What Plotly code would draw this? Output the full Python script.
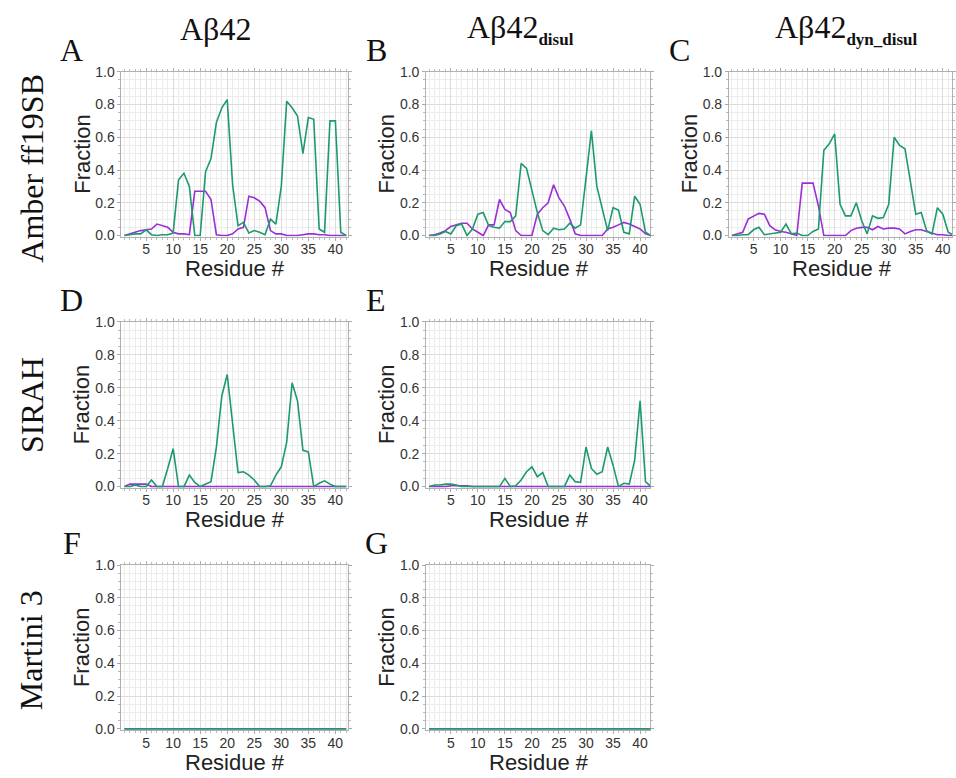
import plotly.graph_objects as go

W, H = 956, 778

residues = list(range(1, 43))
x_tick_vals = [5, 10, 15, 20, 25, 30, 35, 40]
y_tick_vals = [0.0, 0.2, 0.4, 0.6, 0.8, 1.0]

# Panel A: Aβ42, Amber ff19SB
A_green = [0.0, 0.005, 0.01, 0.01, 0.035, 0.005, 0.0, 0.005, 0.005, 0.015,
           0.34, 0.38, 0.30, 0.0, 0.0, 0.39, 0.47, 0.69, 0.78, 0.83,
           0.31, 0.06, 0.08, 0.015, 0.03, 0.02, 0.005, 0.10, 0.07, 0.30,
           0.82, 0.78, 0.73, 0.50, 0.72, 0.71, 0.04, 0.02, 0.70, 0.70,
           0.02, 0.0]
A_purple = [0.0, 0.01, 0.02, 0.03, 0.035, 0.04, 0.07, 0.06, 0.05, 0.02,
            0.01, 0.01, 0.005, 0.27, 0.27, 0.27, 0.22, 0.005, 0.0, 0.0,
            0.01, 0.04, 0.05, 0.24, 0.23, 0.21, 0.17, 0.03, 0.01, 0.01,
            0.0, 0.0, 0.0, 0.005, 0.01, 0.01, 0.005, 0.005, 0.0, 0.0,
            0.0, 0.0]
# Panel B: Aβ42disul, Amber ff19SB
B_green = [0.0, 0.0, 0.01, 0.025, 0.01, 0.06, 0.07, 0.0, 0.04, 0.13,
           0.14, 0.06, 0.05, 0.045, 0.085, 0.085, 0.12, 0.44, 0.41, 0.28,
           0.14, 0.03, 0.005, 0.045, 0.035, 0.04, 0.075, 0.045, 0.065, 0.35,
           0.64, 0.30, 0.17, 0.03, 0.17, 0.155, 0.02, 0.01, 0.24, 0.19,
           0.02, 0.0]
B_purple = [0.0, 0.005, 0.015, 0.03, 0.055, 0.065, 0.075, 0.075, 0.04, 0.02,
            0.0, 0.065, 0.065, 0.22, 0.16, 0.14, 0.03, 0.0, 0.0, 0.0,
            0.13, 0.17, 0.20, 0.31, 0.23, 0.18, 0.10, 0.01, 0.0, 0.0,
            0.0, 0.0, 0.0, 0.04, 0.05, 0.065, 0.08, 0.07, 0.055, 0.04,
            0.01, 0.0]
# Panel C: Aβ42dyn_disul, Amber ff19SB
C_green = [0.0, 0.0, 0.005, 0.005, 0.035, 0.05, 0.005, 0.01, 0.015, 0.02,
           0.07, 0.01, 0.015, 0.0, 0.0, 0.025, 0.04, 0.52, 0.56, 0.62,
           0.19, 0.12, 0.12, 0.20, 0.09, 0.01, 0.12, 0.105, 0.11, 0.19,
           0.60, 0.55, 0.53, 0.32, 0.13, 0.14, 0.03, 0.01, 0.17, 0.13,
           0.02, 0.0]
C_purple = [0.0, 0.01, 0.02, 0.10, 0.12, 0.135, 0.13, 0.06, 0.035, 0.025,
            0.02, 0.01, 0.0, 0.32, 0.32, 0.32, 0.18, 0.0, 0.0, 0.0,
            0.0, 0.0, 0.03, 0.045, 0.05, 0.05, 0.035, 0.055, 0.04, 0.045,
            0.045, 0.04, 0.01, 0.025, 0.035, 0.035, 0.025, 0.015, 0.005, 0.005,
            0.0, 0.0]
# Panel D: Aβ42, SIRAH
D_green = [0.0, 0.0, 0.01, 0.0, 0.0, 0.04, 0.0, 0.0, 0.11, 0.23,
           0.0, 0.0, 0.07, 0.025, 0.0, 0.015, 0.03, 0.24, 0.55, 0.68,
           0.40, 0.085, 0.09, 0.07, 0.04, 0.0, 0.0, 0.005, 0.07, 0.12,
           0.27, 0.63, 0.52, 0.22, 0.21, 0.0, 0.02, 0.035, 0.015, 0.0,
           0.0, 0.0]
D_purple = [0.0, 0.015, 0.015, 0.015, 0.015, 0.0, 0.0, 0.0, 0.0, 0.0,
            0.0, 0.0, 0.0, 0.0, 0.0, 0.0, 0.0, 0.0, 0.0, 0.0,
            0.0, 0.0, 0.0, 0.0, 0.0, 0.0, 0.0, 0.0, 0.0, 0.0,
            0.0, 0.0, 0.0, 0.0, 0.0, 0.0, 0.0, 0.0, 0.0, 0.0,
            0.0, 0.0]
# Panel E: Aβ42disul, SIRAH
E_green = [0.0, 0.01, 0.01, 0.015, 0.015, 0.01, 0.0, 0.0, 0.0, 0.0,
           0.0, 0.0, 0.0, 0.0, 0.05, 0.0, 0.005, 0.04, 0.09, 0.12,
           0.06, 0.085, 0.0, 0.0, 0.0, 0.0, 0.07, 0.03, 0.025, 0.24,
           0.11, 0.075, 0.09, 0.24, 0.13, 0.0, 0.02, 0.015, 0.16, 0.52,
           0.03, 0.0]
E_purple = [0.0, 0.0, 0.0, 0.0, 0.005, 0.005, 0.005, 0.005, 0.0, 0.0,
            0.0, 0.0, 0.0, 0.0, 0.0, 0.0, 0.0, 0.0, 0.0, 0.0,
            0.0, 0.0, 0.0, 0.0, 0.0, 0.0, 0.0, 0.0, 0.0, 0.0,
            0.0, 0.0, 0.0, 0.0, 0.0, 0.0, 0.0, 0.0, 0.0, 0.0,
            0.0, 0.0]
# Panels F, G: Martini 3 (all zero)
F_green = [0.0] * 42
F_purple = [0.0] * 42
G_green = [0.0] * 42
G_purple = [0.0] * 42

GREEN = "#1d9a6c"
PURPLE = "#9a2fd8"

def px_x(x):
    return x / W

def px_y(y):
    return 1 - y / H

cols_px = [(122, 349), (428, 653), (732, 956)]
rows_px = [(65, 233), (320, 489), (568, 736)]
scale = 227 / (42.25 - 0.45)

panels = [
    ("A", 0, 0, A_green, A_purple),
    ("B", 0, 1, B_green, B_purple),
    ("C", 0, 2, C_green, C_purple),
    ("D", 1, 0, D_green, D_purple),
    ("E", 1, 1, E_green, E_purple),
    ("F", 2, 0, F_green, F_purple),
    ("G", 2, 1, G_green, G_purple),
]

fig = go.Figure()
layout = {}
annotations = []
sans = "Liberation Sans, Arial, sans-serif"
tickfont = dict(family=sans, size=14, color="#333333")
titlefont = dict(family=sans, size=22, color="#222222")
serif = "Liberation Serif, Times New Roman, serif"

for i, (letter, r, c, g, p) in enumerate(panels):
    n = "" if i == 0 else str(i + 1)
    xl, xr = cols_px[c]
    yt, yb = rows_px[r]
    xmax = 0.45 + (xr - xl) / scale
    fig.add_trace(go.Scatter(x=residues, y=p, mode="lines",
                             line=dict(color=PURPLE, width=1.6),
                             xaxis="x" + n, yaxis="y" + n, showlegend=False))
    fig.add_trace(go.Scatter(x=residues, y=g, mode="lines",
                             line=dict(color=GREEN, width=1.6),
                             xaxis="x" + n, yaxis="y" + n, showlegend=False))
    layout["xaxis" + n] = dict(
        domain=[px_x(xl), px_x(xr)], anchor="y" + n, range=[0.45, xmax],
        tickvals=x_tick_vals, ticks="outside", ticklen=3, tickcolor="#aaaaaa",
        ticklabelstandoff=-3,
        tickfont=tickfont, showline=True, linecolor="#b0b0b0", linewidth=1, mirror="ticks",
        showgrid=True, gridcolor="#dcdcdc", gridwidth=1, zeroline=False,
        layer="below traces",
        minor=dict(dtick=1, tick0=0, showgrid=True, gridcolor="#ececec", ticks="outside",
                   ticklen=2, tickcolor="#bbbbbb"),
    )
    layout["yaxis" + n] = dict(
        domain=[px_y(yb), px_y(yt)], anchor="x" + n, range=[-0.006, 1.0],
        tickvals=y_tick_vals, tickformat=".1f", ticks="outside", ticklen=3,
        tickcolor="#aaaaaa", tickfont=tickfont, showline=True, linecolor="#b0b0b0",
        linewidth=1, mirror="ticks", showgrid=True, gridcolor="#dcdcdc", zeroline=False,
        layer="below traces",
        minor=dict(dtick=0.05, tick0=0, showgrid=True, gridcolor="#ececec", ticks="outside",
                   ticklen=2, tickcolor="#bbbbbb"),
    )
    full_right = xl + 227
    annotations.append(dict(text="Residue #", x=px_x((xl + full_right) / 2), y=px_y(yb + 33),
                            xref="paper", yref="paper", showarrow=False,
                            xanchor="center", yanchor="middle", font=titlefont))
    annotations.append(dict(text="Fraction", x=px_x(xl - 40), y=px_y((yt + yb) / 2),
                            xref="paper", yref="paper", showarrow=False, textangle=-90,
                            xanchor="center", yanchor="middle", font=titlefont))
    annotations.append(dict(text=letter, x=px_x(xl - 50), y=px_y(yt - 22),
                            xref="paper", yref="paper", showarrow=False,
                            xanchor="center", yanchor="middle",
                            font=dict(family=serif, size=32, color="#111111")))

sub_style = '<sub><span style="font-size:17px"><b>%s</b></span></sub>'
headers = [("Aβ42", 216), ("Aβ42" + sub_style % "disul", 523),
           ("Aβ42" + sub_style % "dyn_disul", 850)]
for txt, cx in headers:
    annotations.append(dict(text=txt, x=px_x(cx), y=px_y(21), xref="paper", yref="paper",
                            showarrow=False, xanchor="center", yanchor="middle",
                            font=dict(family=serif, size=32, color="#111111")))

row_labels = [("Amber ff19SB", 163), ("SIRAH", 405), ("Martini 3", 655)]
for txt, cy in row_labels:
    annotations.append(dict(text=txt, x=px_x(32), y=px_y(cy), xref="paper", yref="paper",
                            showarrow=False, textangle=-90, xanchor="center", yanchor="middle",
                            font=dict(family=serif, size=32, color="#111111")))

fig.update_layout(width=W, height=H, margin=dict(l=0, r=0, t=0, b=0),
                  paper_bgcolor="white", plot_bgcolor="white",
                  annotations=annotations, **layout)

fig.write_html("out.html")
